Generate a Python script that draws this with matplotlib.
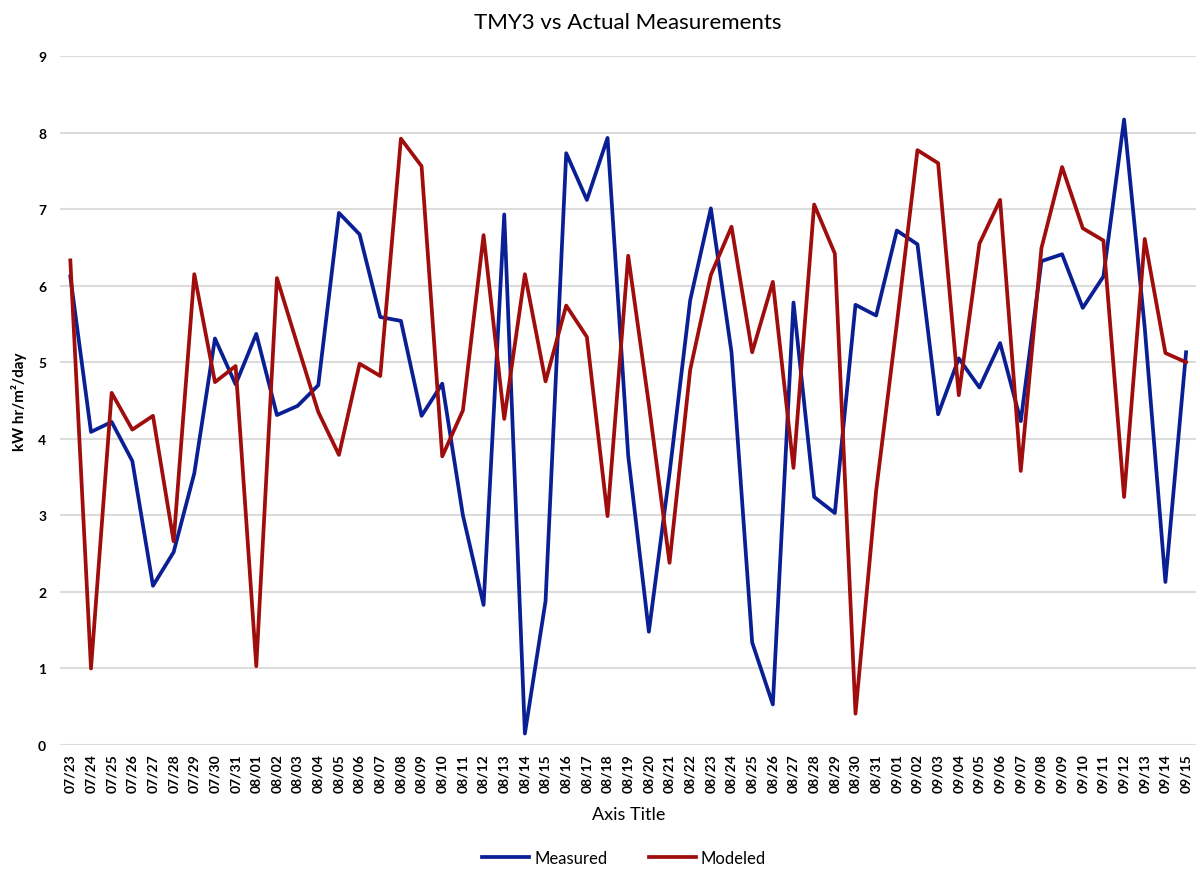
import matplotlib
matplotlib.use("Agg")

import matplotlib.pyplot as plt
import numpy as np

# ------------------------------------------------------------
# DATA
# ------------------------------------------------------------
dates = (["07/%02d" % d for d in range(23, 32)]
         + ["08/%02d" % d for d in range(1, 32)]
         + ["09/%02d" % d for d in range(1, 16)])

measured = [6.12, 4.09, 4.22, 3.71, 2.08, 2.52, 3.55, 5.31, 4.71,
            5.37, 4.31, 4.43, 4.70, 6.95, 6.67, 5.59, 5.54, 4.30, 4.72,
            3.00, 1.83, 6.93, 0.15, 1.88, 7.73, 7.12, 7.93, 3.78, 1.48,
            3.55, 5.81, 7.01, 5.13, 1.34, 0.53, 5.78, 3.24, 3.03, 5.75,
            5.61, 6.72, 6.54, 4.32, 5.05, 4.67, 5.25, 4.23, 6.32, 6.41,
            5.71, 6.12, 8.17, 5.45, 2.13, 5.13]

modeled = [6.33, 1.00, 4.60, 4.12, 4.30, 2.66, 6.15, 4.74, 4.95,
           1.03, 6.10, 5.22, 4.35, 3.79, 4.98, 4.82, 7.92, 7.56, 3.77,
           4.37, 6.66, 4.26, 6.15, 4.75, 5.74, 5.33, 2.99, 6.39, 4.45,
           2.38, 4.90, 6.14, 6.77, 5.13, 6.05, 3.62, 7.06, 6.42, 0.41,
           3.32, 5.50, 7.77, 7.60, 4.57, 6.55, 7.12, 3.58, 6.49, 7.55,
           6.75, 6.59, 3.24, 6.61, 5.12, 5.00]

# ------------------------------------------------------------
# PLOT
# ------------------------------------------------------------
plt.rcParams['font.family'] = ['Lato', 'DejaVu Sans']

fig = plt.figure(figsize=(12, 8.7), dpi=100)
ax = fig.add_axes([0.05, 0.1425, 0.947, 0.792])

x = np.arange(len(dates))
ax.plot(x, measured, color="#0a1f94", lw=2.7, label="Measured")
ax.plot(x, modeled, color="#a00d0d", lw=2.7, label="Modeled")

ax.set_xlim(-0.5, len(dates) - 0.5)
ax.set_ylim(0, 9)
ax.set_yticks(range(10))
ax.set_xticks(x)
ax.set_xticklabels(dates, rotation=90, fontsize=10, fontweight="bold")
for lbl in ax.get_yticklabels():
    lbl.set_fontsize(10)
    lbl.set_fontweight("bold")

ax.grid(axis="y", color="#dcdcdc", lw=1.5)
ax.set_axisbelow(True)
for s in ax.spines.values():
    s.set_visible(False)
ax.tick_params(length=0, pad=10)
ax.tick_params(axis="x", pad=6)

ax.set_title("TMY3 vs Actual Measurements", fontsize=16, pad=20)
ax.set_ylabel("kW hr/m\u00b2/day", fontsize=11, fontweight="bold", labelpad=8)
ax.set_xlabel("Axis Title", fontsize=13, labelpad=10)

fig.legend(loc="lower center", bbox_to_anchor=(0.52, -0.014), ncol=2,
           frameon=False, fontsize=12, handlelength=2.8, columnspacing=2.5,
           handletextpad=0.3)

fig.savefig("out.png", dpi=100)
